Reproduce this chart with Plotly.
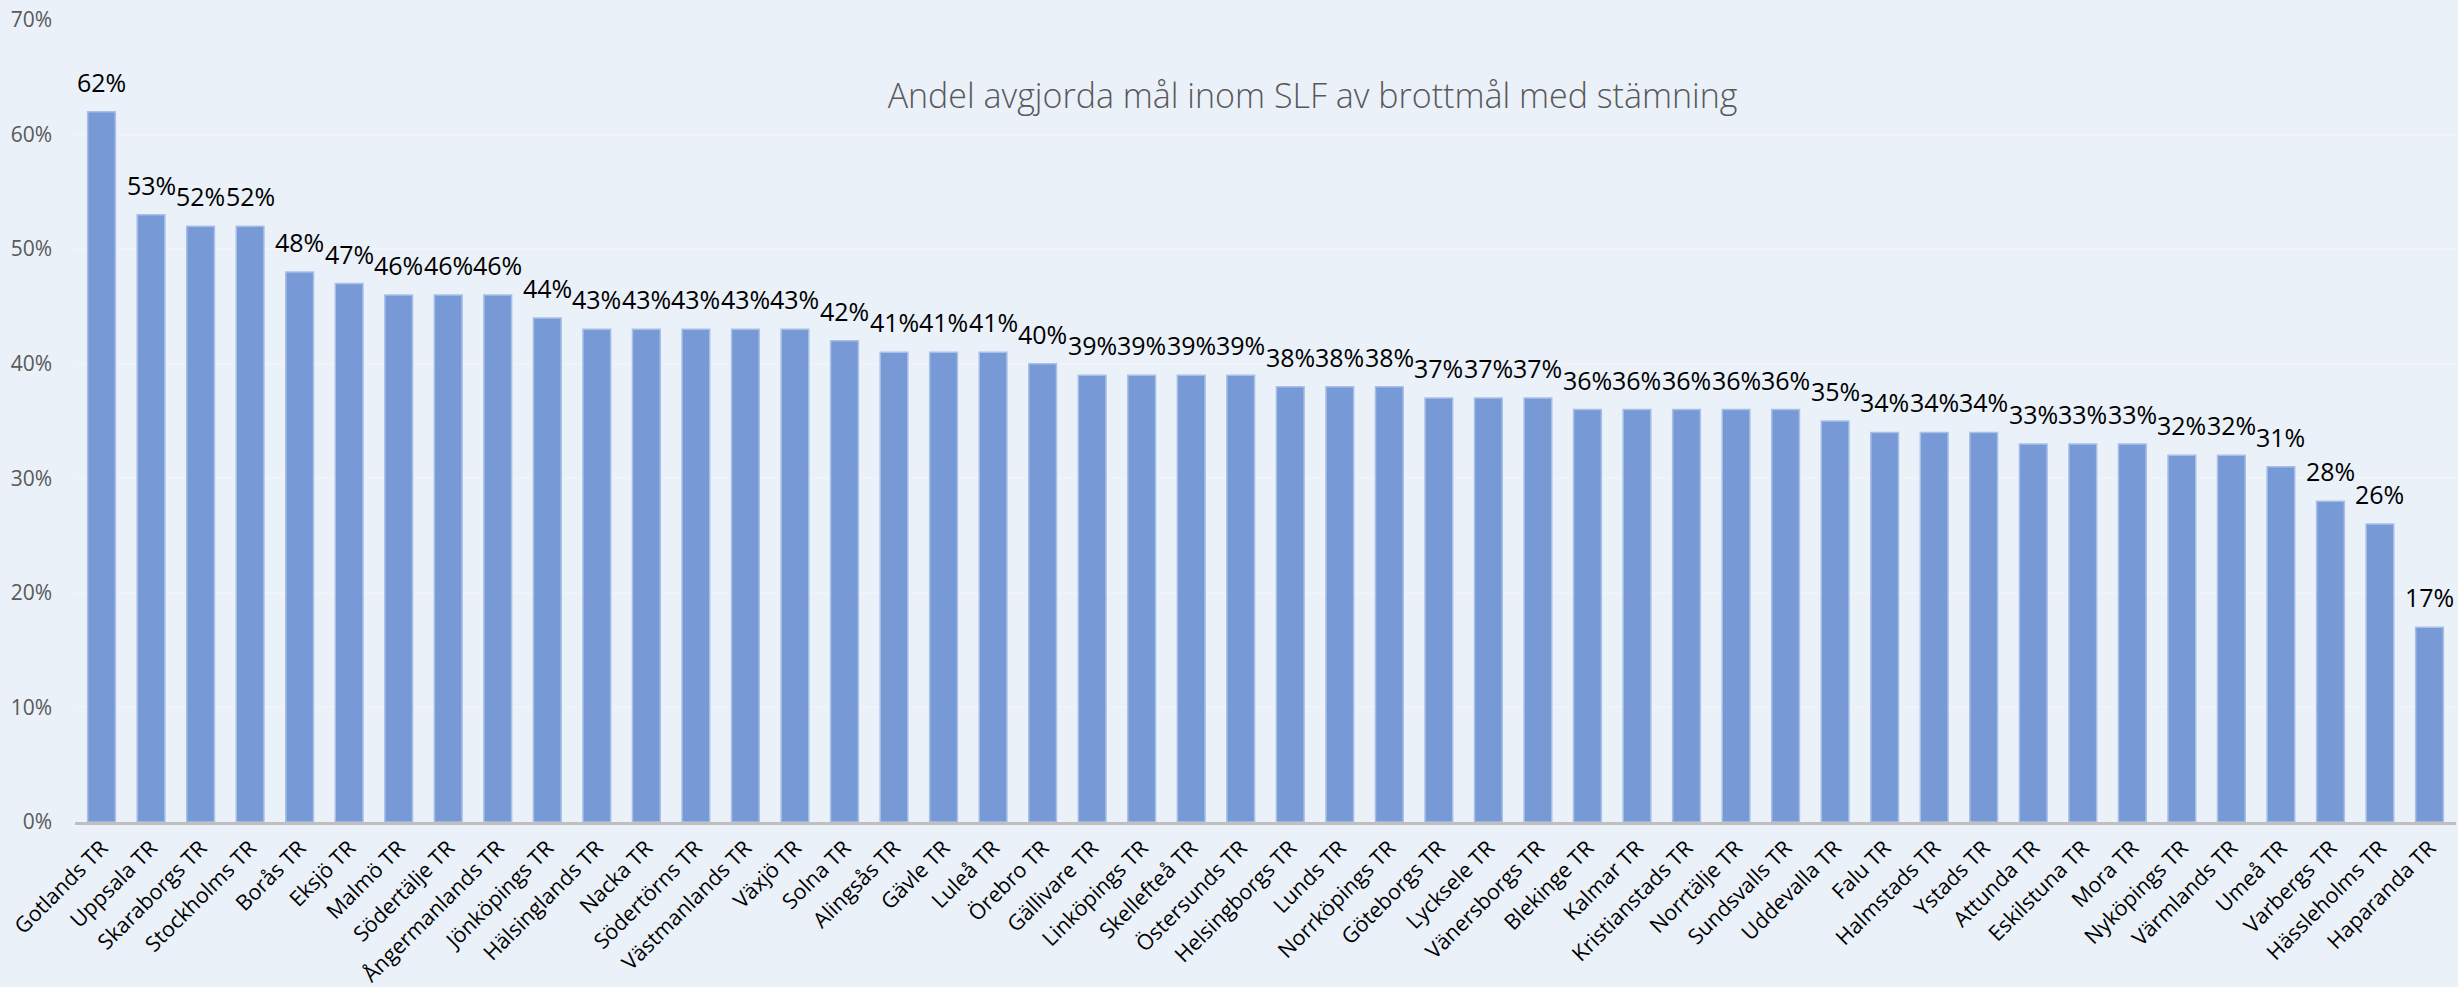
import plotly.graph_objects as go

categories = ["Gotlands TR", "Uppsala TR", "Skaraborgs TR", "Stockholms TR", "Borås TR", "Eksjö TR",
              "Malmö TR", "Södertälje TR", "Ångermanlands TR", "Jönköpings TR", "Hälsinglands TR",
              "Nacka TR", "Södertörns TR", "Västmanlands TR", "Växjö TR", "Solna TR", "Alingsås TR",
              "Gävle TR", "Luleå TR", "Örebro TR", "Gällivare TR", "Linköpings TR", "Skellefteå TR",
              "Östersunds TR", "Helsingborgs TR", "Lunds TR", "Norrköpings TR", "Göteborgs TR",
              "Lycksele TR", "Vänersborgs TR", "Blekinge TR", "Kalmar TR", "Kristianstads TR",
              "Norrtälje TR", "Sundsvalls TR", "Uddevalla TR", "Falu TR", "Halmstads TR", "Ystads TR",
              "Attunda TR", "Eskilstuna TR", "Mora TR", "Nyköpings TR", "Värmlands TR", "Umeå TR",
              "Varbergs TR", "Hässleholms TR", "Haparanda TR"]
values = [0.62, 0.53, 0.52, 0.52, 0.48, 0.47, 0.46, 0.46, 0.46, 0.44, 0.43, 0.43, 0.43, 0.43, 0.43,
          0.42, 0.41, 0.41, 0.41, 0.40, 0.39, 0.39, 0.39, 0.39, 0.38, 0.38, 0.38, 0.37, 0.37, 0.37,
          0.36, 0.36, 0.36, 0.36, 0.36, 0.35, 0.34, 0.34, 0.34, 0.33, 0.33, 0.33, 0.32, 0.32, 0.31,
          0.28, 0.26, 0.17]
title_text = "Andel avgjorda mål inom SLF av brottmål med stämning"
y_ticks = [0, 0.1, 0.2, 0.3, 0.4, 0.5, 0.6, 0.7]

FONT = "Open Sans"
BG = "#EAF1F9"

fig = go.Figure()
fig.add_trace(go.Bar(
    x=categories, y=values,
    marker=dict(color="#7799D5", line=dict(color="#A8C0E8", width=1.5)),
    hoverinfo="x+y",
))

for c, v in zip(categories, values):
    fig.add_annotation(x=c, y=v, text=f"{round(v*100)}%", showarrow=False,
                       yanchor="bottom", xanchor="center", yshift=11,
                       font=dict(family=FONT, size=25, color="#000000"))

fig.update_layout(
    width=2458, height=987,
    margin=dict(l=75, r=2, t=20, b=165),
    paper_bgcolor=BG, plot_bgcolor=BG,
    bargap=0.44,
    showlegend=False,
    title=dict(text=title_text, x=0.534, xanchor="center", y=1 - 96/987, yanchor="middle",
               font=dict(family=FONT, size=34, color="#595959", weight=300)),
    font=dict(family=FONT),
)
fig.update_xaxes(
    tickangle=-45, tickfont=dict(family=FONT, size=21.5, color="#000000"),
    showline=True, linecolor="#BFBFBF", linewidth=3,
    showgrid=False, ticks="", ticklabelstandoff=2, automargin=False,
)
fig.update_yaxes(
    range=[0, 0.7], tickvals=y_ticks, tickformat=".0%",
    tickfont=dict(family=FONT, size=21, color="#595959"),
    showgrid=True, gridcolor="#F1F3F6", gridwidth=1.5,
    zeroline=False, showline=False, ticks="", ticklabelstandoff=22, automargin=False,
)

fig.write_html("out.html",
               config={"displayModeBar": False},
               post_script="document.body.style.margin='0';document.body.style.background='#EAF1F9';")
